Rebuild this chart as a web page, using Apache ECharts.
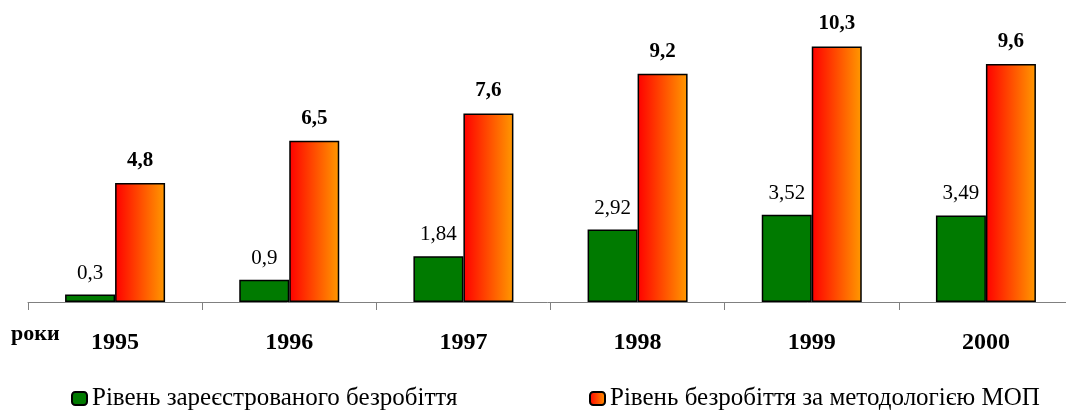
<!DOCTYPE html>
<html>
<head>
<meta charset="utf-8">
<script src="https://cdn.jsdelivr.net/npm/echarts@6/dist/echarts.min.js"></script>
<style>
  html, body { margin: 0; padding: 0; background: #fff; }
  #chart { width: 1066px; height: 410px; }
</style>
</head>
<body>
<div id="chart"></div>
<script>
  // data
  const years = ['1995', '1996', '1997', '1998', '1999', '2000'];
  const registered = [0.3, 0.9, 1.84, 2.92, 3.52, 3.49];
  const ilo = [4.8, 6.5, 7.6, 9.2, 10.3, 9.6];
  const seriesNames = ['Рівень зареєстрованого безробіття', 'Рівень безробіття за методологією МОП'];

  const fmt = v => String(v).replace('.', ',');
  const serif = 'Liberation Serif';

  const orangeGrad = new echarts.graphic.LinearGradient(0, 0, 1, 0, [
    { offset: 0, color: '#ff0000' },
    { offset: 1, color: '#ff9900' }
  ]);

  const legendBase = {
    top: 381, itemWidth: 15, itemHeight: 13, itemGap: 0,
    selectedMode: false,
    textStyle: { fontFamily: serif, fontSize: 25, color: '#000' }
  };

  const chart = echarts.init(document.getElementById('chart'));
  chart.setOption({
    animation: false,
    textStyle: { fontFamily: serif },
    grid: { left: 28, width: 1045, top: 4.4, bottom: 108, containLabel: false, outerBoundsMode: 'none' },
    xAxis: {
      type: 'category',
      data: years,
      axisLine: { lineStyle: { color: '#808080', width: 1 } },
      axisTick: { show: true, length: 8, lineStyle: { color: '#808080' } },
      axisLabel: { color: '#000', fontWeight: 'bold', fontSize: 24, fontFamily: serif, margin: 29 }
    },
    yAxis: {
      type: 'value', min: 0, max: 12,
      show: false,
      splitLine: { show: false }
    },
    legend: [
      Object.assign({ data: [seriesNames[0]], left: 66 }, legendBase),
      Object.assign({ data: [seriesNames[1]], left: 584 }, legendBase)
    ],
    graphic: [
      {
        type: 'text', left: 11, top: 323,
        style: { text: 'роки', font: 'bold 22px "Liberation Serif"', fill: '#000' }
      }
    ],
    series: [
      {
        name: seriesNames[0],
        type: 'bar',
        data: registered,
        barWidth: 50,
        barGap: '0%',
        itemStyle: { color: '#007a00', borderColor: '#000', borderWidth: 1.5 },
        label: {
          show: true, position: 'top', distance: 11,
          formatter: p => fmt(p.value),
          fontFamily: serif, fontSize: 21, color: '#000'
        }
      },
      {
        name: seriesNames[1],
        type: 'bar',
        data: ilo,
        barWidth: 50,
        itemStyle: { color: orangeGrad, borderColor: '#000', borderWidth: 1.5 },
        label: {
          show: true, position: 'top', distance: 12,
          formatter: p => fmt(p.value),
          fontFamily: serif, fontSize: 21, fontWeight: 'bold', color: '#000'
        }
      }
    ]
  });
</script>
</body>
</html>
